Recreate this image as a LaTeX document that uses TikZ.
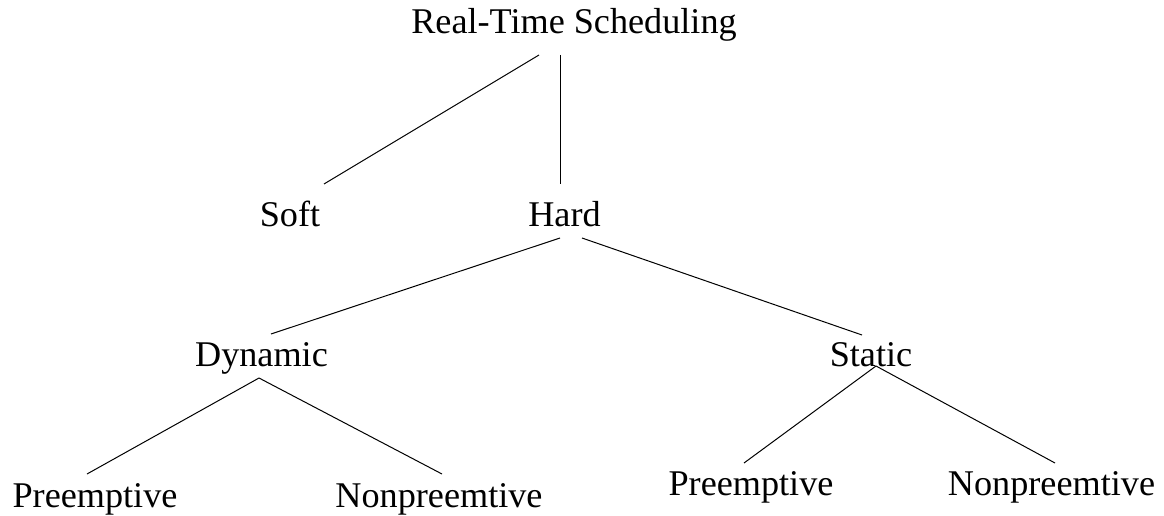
\documentclass[tikz,border=0pt]{standalone}
\usepackage{fontspec}
\setmainfont{Liberation Serif}
\begin{document}
\begin{tikzpicture}[x=1pt,y=-1pt,
  lbl/.style={anchor=base,inner sep=0pt,font=\fontsize{36.2}{40}\selectfont},
  edge/.style={draw=black,line width=1pt}]
\useasboundingbox (0,0) rectangle (1164,516);
% nodes
\node[lbl] (root) at (574,34) {Real-Time Scheduling};
\node[lbl] (soft) at (290,226) {Soft};
\node[lbl] (hard) at (564.5,226) {Hard};
\node[lbl] (dyn) at (261.5,366.7) {Dynamic};
\node[lbl] (stat) at (871,366.7) {Static};
\node[lbl] (p1) at (95,507) {Preemptive};
\node[lbl] (n1) at (439,507) {Nonpreemtive};
\node[lbl] (p2) at (751,495) {Preemptive};
\node[lbl] (n2) at (1051.5,495) {Nonpreemtive};
% connector end points
\coordinate (rootA) at (539,55);
\coordinate (rootB) at (560,55);
\coordinate (softT) at (324,184);
\coordinate (hardT) at (560,184);
\coordinate (hardA) at (560,238);
\coordinate (hardB) at (582,238);
\coordinate (dynT) at (271,334);
\coordinate (statT) at (862,335);
\coordinate (dynB) at (259,378);
\coordinate (statB) at (876,366);
\coordinate (p1T) at (87,474);
\coordinate (n1T) at (442,474);
\coordinate (p2T) at (744,463);
\coordinate (n2T) at (1055,463);
% connectors
\draw[edge] (rootA) -- (softT);
\draw[edge] (rootB) -- (hardT);
\draw[edge] (hardA) -- (dynT);
\draw[edge] (hardB) -- (statT);
\draw[edge] (dynB) -- (p1T);
\draw[edge] (dynB) -- (n1T);
\draw[edge] (statB) -- (p2T);
\draw[edge] (statB) -- (n2T);
\end{tikzpicture}
\end{document}
